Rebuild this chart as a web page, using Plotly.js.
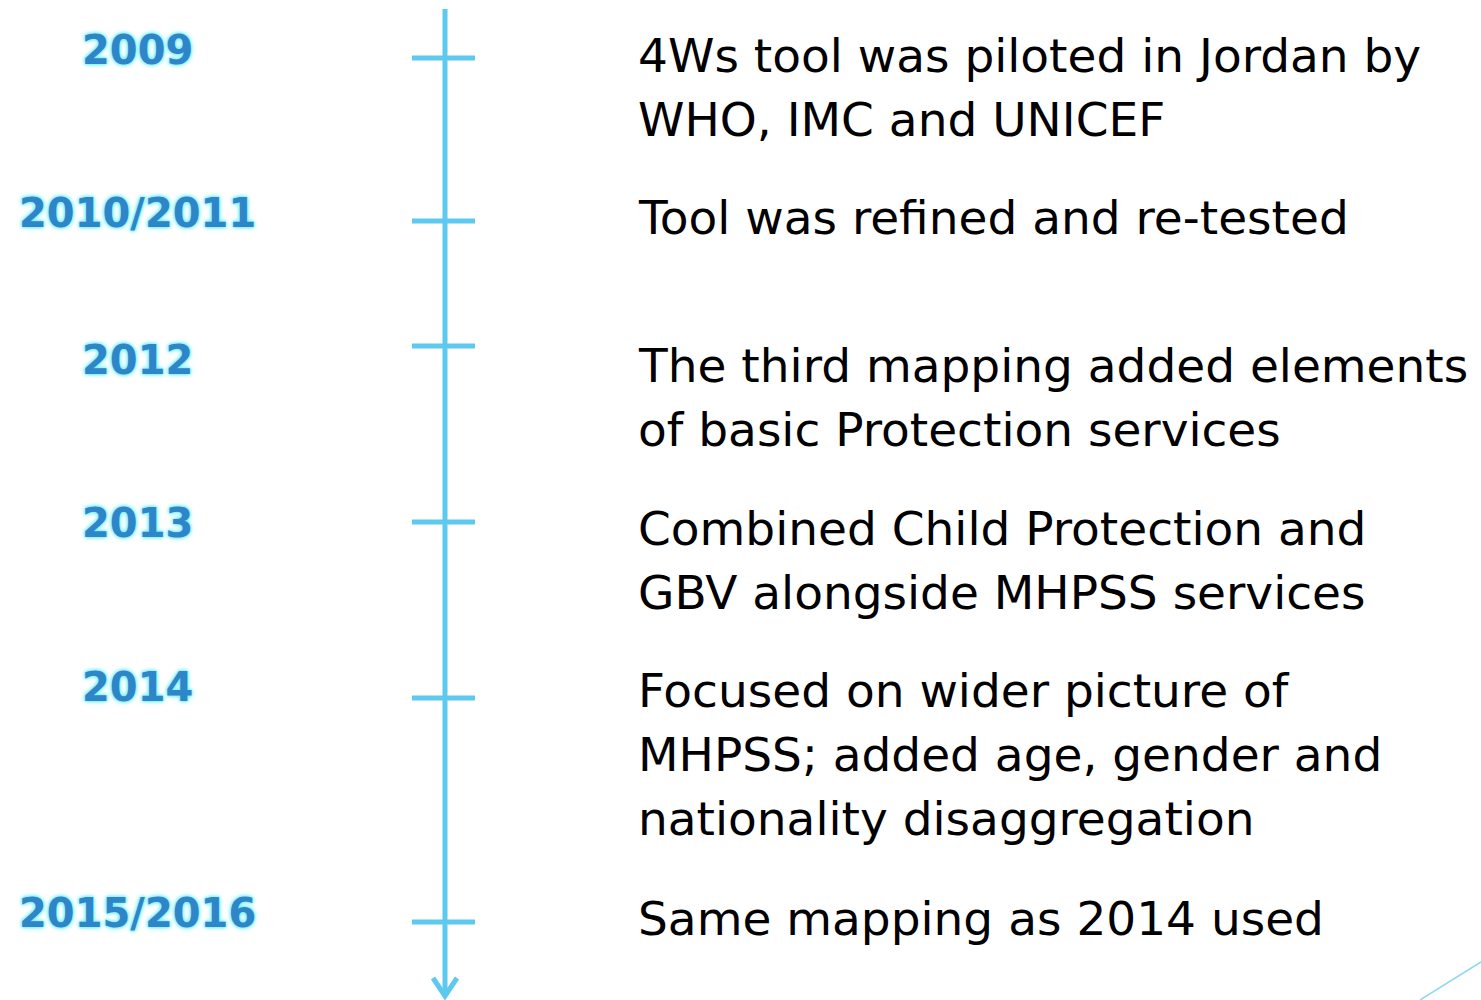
<!DOCTYPE html>
<html>
<head>
<meta charset="utf-8">
<script src="https://cdn.plot.ly/plotly-3.0.1.min.js"></script>
<style>html,body{margin:0;padding:0;background:#fff;}#chart{width:1481px;height:1000px;}</style>
</head>
<body>
<div id="chart"></div>
<script>
// ---- data ----
const years = ["2009", "2010/2011", "2012", "2013", "2014", "2015/2016"];
const descriptions = [
  ["4Ws tool was piloted in Jordan by", "WHO, IMC and UNICEF"],
  ["Tool was refined and re-tested"],
  ["The third mapping added elements", "of basic Protection services"],
  ["Combined Child Protection and", "GBV alongside MHPSS services"],
  ["Focused on wider picture of", "MHPSS; added age, gender and", "nationality disaggregation"],
  ["Same mapping as 2014 used"]
];
// vertical positions on the timeline (pixel-like scale, top = 0)
const tickPos = [58, 221, 346, 522, 698, 922];
const yearPos = [50, 213, 360, 523, 687, 913];
const textPos = [55, 217, 365, 528, 690, 918];

// ---- style ----
const lineColor = "#5EC9EF";
const yearColor = "#2E86C8";
const axisX = 445, tickL = 412, tickR = 475;
const lineTop = 9, lineBottom = 996;
const lineGap = 64;

const traces = [];
// main vertical line
traces.push({x:[axisX, axisX], y:[lineTop, lineBottom], mode:"lines",
  line:{color:lineColor, width:5}, hoverinfo:"skip", showlegend:false});
// arrowhead
traces.push({x:[axisX-12, axisX, axisX+12], y:[lineBottom-18, lineBottom, lineBottom-18], mode:"lines",
  line:{color:lineColor, width:5}, hoverinfo:"skip", showlegend:false});
// ticks
const tx = [], ty = [];
tickPos.forEach(p => { tx.push(tickL, tickR, null); ty.push(p, p, null); });
traces.push({x:tx, y:ty, mode:"lines", line:{color:lineColor, width:5}, hoverinfo:"skip", showlegend:false});
// corner decoration
traces.push({x:[1420, 1481], y:[1000, 962], mode:"lines",
  line:{color:"#8FD9F2", width:1.5}, hoverinfo:"skip", showlegend:false});

const annotations = [];
years.forEach((yr, i) => {
  annotations.push({x:137, y:yearPos[i], text:yr, showarrow:false, xanchor:"center", yanchor:"middle",
    font:{family:"Verdana, DejaVu Sans, sans-serif", size:40, color:yearColor, weight:700,
      shadow:"0 0 4px #7FF0FF, 0 0 4px #7FF0FF, 0 0 3px #7FF0FF"}});
});
descriptions.forEach((lines, i) => {
  lines.forEach((ln, j) => {
    annotations.push({x:636, y:textPos[i] + j*lineGap, text:ln, showarrow:false, xanchor:"left", yanchor:"middle",
      font:{family:"DejaVu Sans, sans-serif", size:47, color:"#000"}});
  });
});

const layout = {
  width:1481, height:1000, margin:{l:0,r:0,t:0,b:0},
  paper_bgcolor:"#fff", plot_bgcolor:"#fff",
  xaxis:{range:[0,1481], visible:false, fixedrange:true},
  yaxis:{range:[1000,0], visible:false, fixedrange:true},
  annotations:annotations, showlegend:false
};
Plotly.newPlot("chart", traces, layout, {displayModeBar:false, staticPlot:true});
</script>
</body>
</html>
